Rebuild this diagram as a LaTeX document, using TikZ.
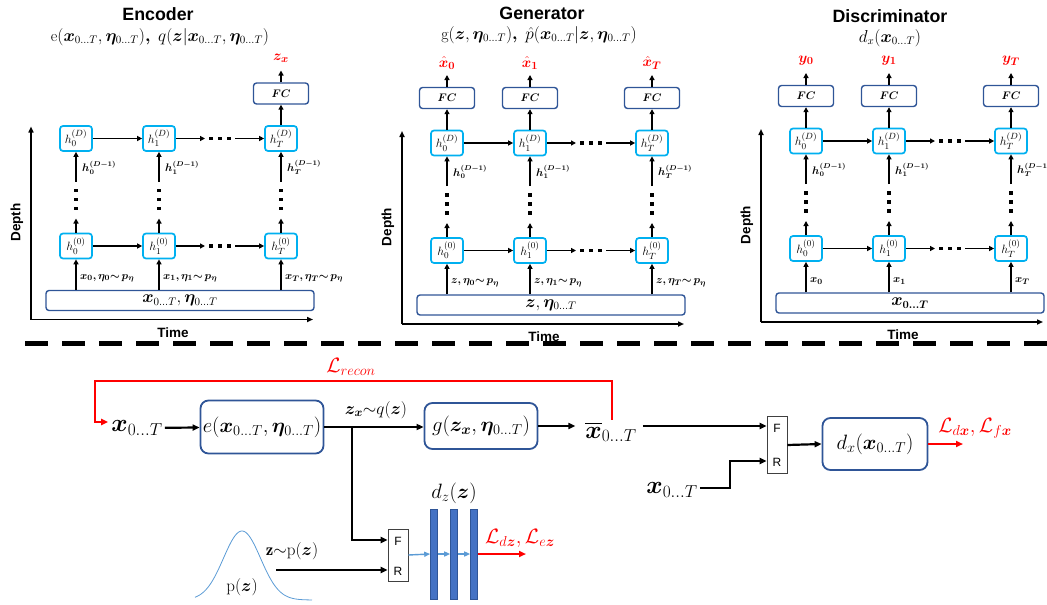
\documentclass[tikz,border=0pt]{standalone}
\usepackage{fontspec}
\usepackage{amsmath,bm}
\setsansfont{Liberation Sans}
\usetikzlibrary{arrows.meta,calc}
\definecolor{hcyan}{RGB}{0,176,240}
\definecolor{dblue}{RGB}{47,85,151}
\definecolor{bblue}{RGB}{68,114,196}
\definecolor{lblue}{RGB}{91,155,213}
\definecolor{rred}{RGB}{255,0,0}
\newcommand\fs[1]{\fontsize{#1}{#1}\selectfont}
\tikzset{
 hbox/.style={draw=hcyan, line width=1.7pt, rounded corners=3pt, minimum width=32pt, minimum height=25pt, inner sep=0pt, fill=white, font=\fs{12.5}},
 fcbox/.style={draw=dblue, line width=1.4pt, rounded corners=3pt, minimum width=55pt, minimum height=21pt, inner sep=0pt, font=\fs{10.5}},
 bigbox/.style={draw=dblue, line width=1.4pt, rounded corners=3pt, minimum width=268pt, minimum height=20pt, inner sep=0pt, font=\fs{16}},
 arr/.style={-{Triangle[length=5pt,width=5pt]}, line width=1.6pt},
 axarr/.style={-{Triangle[length=6pt,width=5pt]}, line width=1.5pt},
 axlab/.style={font=\sffamily\bfseries\fs{13.5}, inner sep=0pt},
 hlab/.style={font=\fs{10.5}, inner sep=0pt, anchor=west},
 inlab/.style={font=\fs{11}, inner sep=0pt, anchor=west},
 outlab/.style={font=\fs{15}, text=rred, inner sep=0pt},
 ttl/.style={font=\sffamily\bfseries\fs{17.8}, inner sep=0pt},
 sub/.style={font=\fs{16}, inner sep=0pt},
 mbox/.style={draw=dblue, line width=1.8pt, rounded corners=8pt, inner sep=0pt, font=\fs{20.5}},
 frbox/.style={draw=black!75, line width=0.6pt, minimum width=20pt, inner sep=0pt, fill=white},
 frlab/.style={font=\sffamily\fs{12}, inner sep=0pt},
 barr/.style={-{Triangle[length=7pt,width=6pt]}, line width=2.2pt},
 rarr/.style={-{Triangle[length=7pt,width=6pt]}, line width=2.2pt, draw=rred},
 blarr/.style={-{Triangle[length=6pt,width=5pt]}, line width=1.4pt, draw=lblue},
 bar/.style={draw=dblue, fill=bblue, line width=0.6pt, minimum width=7pt, minimum height=90pt, inner sep=0pt},
 bigm/.style={font=\fs{25}, inner sep=2pt},
 redlab/.style={font=\fs{20}, text=rred, inner sep=0pt},
 midlab/.style={font=\fs{17}, inner sep=0pt},
}
\newcommand\rnnpanel[7]{%
\begin{scope}[shift={#2}]
\coordinate (#1o) at (-45,181);
\coordinate (#1yt) at (-45,-12);
\coordinate (#1xr) at (237,181);
\draw[axarr] (#1o) -- (#1yt);
\draw[axarr] (#1o) -- (#1xr);
\node[axlab, rotate=90] (#1depth) at (-59,84) {Depth};
\node[axlab] (#1time) at (97,194) {Time};
\node[bigbox] (#1in) at (104,162) {#6};
\foreach \c/\cx in {0/0,1/83,T/205}{
 \node[hbox] (#1D\c) at (\cx,0) {$h_{\c}^{(D)}$};
 \node[hbox] (#1Z\c) at (\cx,107.5) {$h_{\c}^{(0)}$};
 \coordinate (#1a\c) at (\cx,80);
 \coordinate (#1b\c) at (\cx,43);
 \draw[arr] (#1Z\c) -- (#1a\c);
 \draw[arr] (#1b\c) -- (#1D\c);
 \foreach \dy in {52,61,70} \fill (\cx-1.8,\dy-1.8) rectangle ++(3.6,3.6);
 \draw[arr] (#1in.north -| #1Z\c) -- (#1Z\c);
 \node[hlab] (#1hl\c) at (\cx+6,29) {$\bm{h_{\c}^{(D-1)}}$};
}
\foreach \r/\ry in {D/0,Z/107.5}{
 \draw[arr] (#1\r0) -- (#1\r1);
 \coordinate (#1\r pp) at (129,\ry);
 \coordinate (#1\r qq) at (159,\ry);
 \draw[arr] (#1\r1) -- (#1\r pp);
 \draw[arr] (#1\r qq) -- (#1\r T);
 \foreach \dx in {135,144,153} \fill (\dx-1.8,\ry-1.8) rectangle ++(3.6,3.6);
}
\node[inlab] (#1l0) at (4,140) {#3};
\node[inlab] (#1l1) at (87,140) {#4};
\node[inlab] (#1lT) at (209,140) {#5};
\foreach \c/\cx/\lab in {#7}{
 \node[fcbox] (#1F\c) at (\cx,-45) {$\bm{FC}$};
 \draw[arr] (#1D\c) -- (#1F\c);
 \coordinate (#1t\c) at (\cx,-68);
 \draw[arr] (#1F\c) -- (#1t\c);
 \node[outlab] (#1out\c) at (\cx,-80) {\lab};
}
\end{scope}}
\begin{document}
\begin{tikzpicture}[x=1pt,y=-1pt]
\useasboundingbox (0,0) rectangle (1047,605);
% titles
\node[ttl] (tE) at (158,14) {Encoder};
\node[sub] (sE) at (160,37) {$\mathrm{e}(\bm{x}_{0\ldots T},\bm{\eta}_{0\ldots T})\bm{,}\; q(\bm{z}|\bm{x}_{0\ldots T},\bm{\eta}_{0\ldots T})$};
\node[ttl] (tG) at (542,13) {Generator};
\node[sub] (sG) at (539,35) {$\mathrm{g}(\bm{z},\bm{\eta}_{0\ldots T})\bm{,}\; \hat{p}(\bm{x}_{0\ldots T}|\bm{z},\bm{\eta}_{0\ldots T})$};
\node[ttl] (tD) at (890,16) {Discriminator};
\node[sub] (sD) at (890,38) {$d_x(\bm{x}_{0\ldots T})$};
% panels
\rnnpanel{e}{(76,138.5)}{$\bm{x_0,\eta_0{\sim}\,p_\eta}$}{$\bm{x_1,\eta_1{\sim}\,p_\eta}$}{$\bm{x_T,\eta_T{\sim}\,p_\eta}$}{$\bm{x}_{0\ldots T},\bm{\eta}_{0\ldots T}$}{T/205/{$\bm{z_x}$}}
\rnnpanel{g}{(447,143)}{$\bm{z,\eta_0{\sim}\,p_\eta}$}{$\bm{z,\eta_1{\sim}\,p_\eta}$}{$\bm{z,\eta_T{\sim}\,p_\eta}$}{$\bm{z},\bm{\eta}_{0\ldots T}$}{0/0/{$\bm{\hat{x}_0}$},1/83/{$\bm{\hat{x}_1}$},T/205/{$\bm{\hat{x}_T}$}}
\rnnpanel{d}{(806,141)}{$\bm{x_0}$}{$\bm{x_1}$}{$\bm{x_T}$}{$\bm{x_{0\ldots T}}$}{0/0/{$\bm{y_0}$},1/83/{$\bm{y_1}$},T/205/{$\bm{y_T}$}}
% separator
\draw[line width=5pt, dash pattern=on 23pt off 14pt] (25,343) -- (1047,343);
% bottom
\node[bigm] (x1) at (137,428) {$\bm{x}_{0\ldots T}$};
\node[mbox, minimum width=123pt, minimum height=53pt] (ebox) at (262,427) {$e(\bm{x}_{0\ldots T},\bm{\eta}_{0\ldots T})$};
\node[mbox, minimum width=113pt, minimum height=46pt] (gbox) at (481,426) {$g(\bm{z_x},\bm{\eta}_{0\ldots T})$};
\node[bigm] (xbar) at (611,432) {$\overline{\bm{x}}_{0\ldots T}$};
\node[midlab] (zq) at (376,410) {$\bm{z_x}{\sim}q(\bm{z})$};
\node[redlab] (lrec) at (351,367) {$\mathcal{L}_{recon}$};
\draw[barr] (x1) -- (ebox);
\coordinate (br) at (352,427);
\draw[barr] (ebox.east) -- (ebox.east -| gbox.west);
\draw[barr] (gbox.east) -- ++(37,0);
\coordinate (rtl) at (95,381);
\draw[rarr] ($(xbar.north)+(1,0)$) |- (rtl) |- ($(x1.west)+(-1,-6)$);
% discriminator x
\node[frbox, minimum height=57pt] (fr1) at (777,445) {};
\node[frlab] (fr1F) at (777,428) {F};
\node[frlab] (fr1R) at (777,462) {R};
\coordinate (fin1) at ($(fr1.west)+(0,-19)$);
\coordinate (rin1) at ($(fr1.west)+(0,16)$);
\draw[barr] ($(xbar.east)+(4,-6)$) -- (fin1);
\node[bigm] (x2) at (672,490) {$\bm{x}_{0\ldots T}$};
\draw[barr] ($(x2.east)+(0,-2)$) -- ++(30,0) |- (rin1);
\node[mbox, minimum width=105pt, minimum height=52pt] (dxbox) at (875,444) {$d_x(\bm{x}_{0\ldots T})$};
\draw[barr] (fr1.east) -- (dxbox.west);
\coordinate (dxend) at (963,444);
\draw[rarr] (dxbox.east) -- (dxend);
\node[redlab] (ldx) at (975,428) {$\mathcal{L}_{d\bm{x}},\mathcal{L}_{f\bm{x}}$};
% latent discriminator
\node[frbox, minimum height=52pt] (fr2) at (398,555) {};
\node[frlab] (fr2F) at (398,541) {F};
\node[frlab] (fr2R) at (398,571) {R};
\coordinate (fin2) at ($(fr2.west)+(0,-15)$);
\coordinate (rin2) at ($(fr2.west)+(0,15)$);
\draw[barr] (ebox.east -| br) |- (fin2);
\coordinate (zs) at (276,570);
\draw[barr] (zs) -- (rin2);
\node[midlab] (zp) at (292,551) {$\mathbf{z}{\sim}\mathrm{p}(\bm{z})$};
\draw[lblue, line width=0.8pt] plot[domain=195:312, samples=90, smooth] (\x, {600-69*exp(-((\x-242)/18.5)*((\x-242)/18.5)/2)});
\node[midlab] (pz) at (242,587) {$\mathrm{p}(\bm{z})$};
\node[bar] (b1) at (434,554) {};
\node[bar] (b2) at (454,554) {};
\node[bar] (b3) at (474,554) {};
\draw[blarr] (fr2.east) -- (b1.west);
\draw[blarr] (b1.east) -- (b2.west);
\draw[blarr] (b2.east) -- (b3.west);
\coordinate (dzend) at (526,554);
\draw[rarr] (b3.east) -- (dzend);
\node[font=\fs{20}, inner sep=0pt] (dzl) at (454,493) {$d_z(\bm{z})$};
\node[redlab] (ldz) at (520,538) {$\mathcal{L}_{d\bm{z}},\mathcal{L}_{e\bm{z}}$};
\end{tikzpicture}
\end{document}
